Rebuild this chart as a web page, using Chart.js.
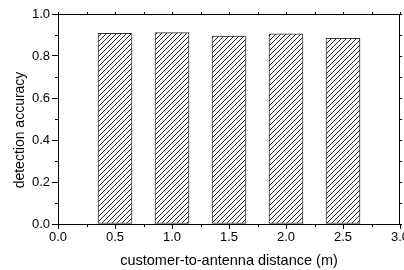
<!DOCTYPE html>
<html>
<head>
<meta charset="utf-8">
<script src="https://cdn.jsdelivr.net/npm/chart.js@4/dist/chart.umd.min.js"></script>
<style>
html,body{margin:0;padding:0;background:#fff;}
#wrap{width:404px;height:270px;}
</style>
</head>
<body>
<div id="wrap"><canvas id="c" width="404" height="270"></canvas></div>
<script>
const distances = [0.5, 1.0, 1.5, 2.0, 2.5];
const accuracy = [0.908, 0.911, 0.895, 0.905, 0.884];
const xTickValues = [0.0, 0.5, 1.0, 1.5, 2.0, 2.5, 3.0];
const yTickValues = [0.0, 0.2, 0.4, 0.6, 0.8, 1.0];
const xTitle = 'customer-to-antenna distance (m)';
const yTitle = 'detection accuracy';

function hatch() {
  const s = 5;
  const c = document.createElement('canvas');
  c.width = s; c.height = s;
  const g = c.getContext('2d');
  g.fillStyle = '#fff';
  g.fillRect(0, 0, s, s);
  g.fillStyle = '#222';
  for (let i = 0; i < s; i++) g.fillRect(i, s - 1 - i, 1, 1);
  return g.createPattern(c, 'repeat');
}

const FONT = 'Liberation Sans, Arial, sans-serif';

const framePlugin = {
  id: 'frame',
  afterDraw(chart) {
    const {ctx, chartArea: a, scales: {x, y}} = chart;
    ctx.save();
    ctx.strokeStyle = '#000';
    ctx.lineWidth = 1;
    ctx.beginPath();
    ctx.moveTo(a.left, a.top + 0.5); ctx.lineTo(a.right, a.top + 0.5);
    ctx.moveTo(a.right - 0.5, a.top); ctx.lineTo(a.right - 0.5, a.bottom);
    for (let v = 0; v <= 3.0001; v += 0.25) {
      const px = Math.round(x.getPixelForValue(v)) + 0.5;
      const major = Math.abs(v * 2 - Math.round(v * 2)) < 1e-6;
      if (!major) { ctx.moveTo(px, a.bottom); ctx.lineTo(px, a.bottom + 3); }
      ctx.moveTo(px, a.top); ctx.lineTo(px, a.top - 2);
    }
    for (let i = 0; i <= 10; i++) {
      const v = i / 10;
      const py = Math.round(y.getPixelForValue(v)) + 0.5;
      if (i % 2 === 1) { ctx.moveTo(a.left, py); ctx.lineTo(a.left - 3, py); }
      ctx.moveTo(a.right, py); ctx.lineTo(a.right + 2, py);
    }
    ctx.stroke();
    ctx.fillStyle = '#000';
    ctx.font = '14px ' + FONT;
    ctx.textAlign = 'center';
    ctx.textBaseline = 'alphabetic';
    ctx.translate(23.5, 130);
    ctx.rotate(-Math.PI / 2);
    ctx.fillText(yTitle, 0, 0);
    ctx.restore();
  }
};

new Chart(document.getElementById('c'), {
  type: 'bar',
  data: {
    datasets: [{
      data: distances.map((d, i) => ({x: d, y: accuracy[i]})),
      backgroundColor: hatch(),
      borderColor: '#333',
      borderWidth: 1,
      borderSkipped: false,
      barThickness: 34
    }]
  },
  options: {
    responsive: false,
    animation: false,
    devicePixelRatio: 1,
    layout: {padding: {left: 0, right: 4, top: 14, bottom: 0}},
    plugins: {legend: {display: false}, tooltip: {enabled: false}},
    scales: {
      x: {
        type: 'linear',
        offset: false,
        min: 0, max: 3,
        afterBuildTicks: s => { s.ticks = xTickValues.map(v => ({value: v})); },
        afterFit: s => { s.height = 46; s.paddingLeft = 0; s.paddingRight = 0; },
        grid: {display: true, offset: false, drawOnChartArea: false, drawTicks: true, tickLength: 5, color: '#000', tickColor: '#000'},
        border: {display: true, color: '#000', width: 1},
        ticks: {
          color: '#000', padding: 1, maxRotation: 0, autoSkip: false,
          font: {family: FONT, size: 13},
          callback: v => Number(v).toFixed(1)
        },
        title: {display: true, text: xTitle, color: '#000', font: {family: FONT, size: 14.5}, padding: {top: 0, bottom: 0}}
      },
      y: {
        type: 'linear',
        min: 0, max: 1,
        afterBuildTicks: s => { s.ticks = yTickValues.map(v => ({value: v})); },
        afterFit: s => { s.width = 58; s.paddingTop = 0; s.paddingBottom = 0; },
        grid: {display: true, drawOnChartArea: false, drawTicks: true, tickLength: 6, color: '#000', tickColor: '#000'},
        border: {display: true, color: '#000', width: 1},
        ticks: {
          color: '#000', padding: 2,
          font: {family: FONT, size: 13},
          callback: v => Number(v).toFixed(1)
        },
        title: {display: false}
      }
    }
  },
  plugins: [framePlugin]
});
</script>
</body>
</html>
